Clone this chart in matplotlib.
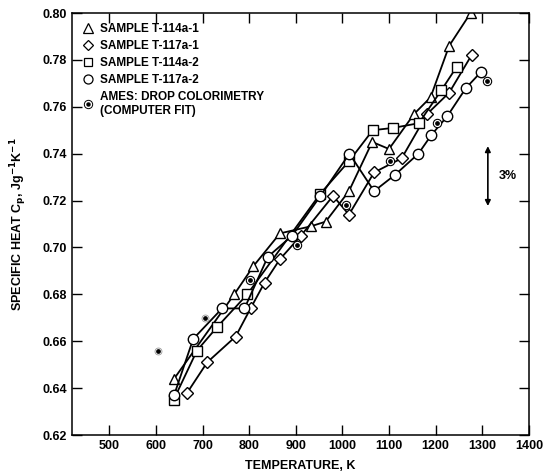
import numpy as np
import matplotlib.pyplot as plt
from matplotlib.lines import Line2D

plt.rcParams["font.family"] = ["Liberation Sans", "DejaVu Sans"]
plt.rcParams["font.weight"] = "bold"

# T-114a-1 (triangles)
t1_T = [639, 768, 809, 866, 932, 964, 1014, 1064, 1100, 1154, 1189, 1229, 1275]
t1_C = [0.644, 0.680, 0.692, 0.706, 0.709, 0.711, 0.724, 0.745, 0.742, 0.757, 0.764, 0.786, 0.800]

# T-117a-1 (diamonds)
t2_T = [667, 710, 771, 803, 833, 866, 911, 980, 1014, 1068, 1127, 1182, 1229, 1277]
t2_C = [0.638, 0.651, 0.662, 0.674, 0.685, 0.695, 0.705, 0.722, 0.714, 0.732, 0.738, 0.757, 0.766, 0.782]

# T-114a-2 (squares)
t3_T = [638, 688, 731, 796, 953, 1015, 1065, 1109, 1164, 1212, 1245]
t3_C = [0.635, 0.656, 0.666, 0.680, 0.723, 0.737, 0.750, 0.751, 0.753, 0.767, 0.777]

# T-117a-2 (circles)
t4_T = [639, 680, 742, 790, 840, 892, 953, 1015, 1068, 1113, 1163, 1191, 1225, 1265, 1298]
t4_C = [0.637, 0.661, 0.674, 0.674, 0.696, 0.705, 0.722, 0.740, 0.724, 0.731, 0.740, 0.748, 0.756, 0.768, 0.775]

# Ames drop colorimetry (computer fit)
ames_T = [604, 705, 801, 903, 1007, 1102, 1202, 1311]
ames_C = [0.656, 0.670, 0.686, 0.701, 0.718, 0.737, 0.753, 0.771]

labels = ["SAMPLE T-114a-1", "SAMPLE T-117a-1", "SAMPLE T-114a-2", "SAMPLE T-117a-2",
          "AMES: DROP COLORIMETRY\n(COMPUTER FIT)"]

fig = plt.figure(figsize=(5.43, 4.75), dpi=100)
ax = fig.add_axes([0.1326, 0.0842, 0.8414, 0.8884])

style = dict(color="black", lw=1.3, mfc="white", mec="black", mew=1.0, ms=7)
ax.plot(t1_T, t1_C, marker="^", **dict(style, ms=7.5))
ax.plot(t2_T, t2_C, marker="D", **dict(style, ms=6))
ax.plot(t3_T, t3_C, marker="s", **style)
ax.plot(t4_T, t4_C, marker="o", **dict(style, ms=7.5))
ax.plot(ames_T[2:], ames_C[2:], ls="none", marker="o", mfc="white", mec="black", mew=0.8, ms=6)
ax.plot(ames_T[:2], ames_C[:2], ls="none", marker="o", mfc="none", mec="0.6", mew=0.6, ms=5)
ax.plot(ames_T, ames_C, ls="none", marker="o", color="black", ms=2.4)

# 3% scale arrow
ax.annotate("", xy=(1312, 0.7165), xytext=(1312, 0.7444),
            arrowprops=dict(arrowstyle="<|-|>", color="black", lw=1.2, mutation_scale=8))
ax.text(1335, 0.7305, "3%", fontsize=9, fontweight="bold", va="center", ha="left")

ax.set_xlim(420, 1400)
ax.set_ylim(0.62, 0.80)
ax.set_xticks(np.arange(500, 1401, 100))
ax.set_yticks(np.arange(0.62, 0.801, 0.02))
ax.set_yticklabels([f"{v:.2f}" for v in np.arange(0.62, 0.801, 0.02)])
ax.tick_params(direction="in", length=7, width=1, top=True, right=True, labelsize=9)
for s in ax.spines.values():
    s.set_linewidth(1.1)

ax.set_xlabel("TEMPERATURE, K", fontsize=9, fontweight="bold", labelpad=6)
ax.set_ylabel(r"SPECIFIC HEAT C$_\mathbf{p}$, Jg$^\mathbf{-1}$K$^\mathbf{-1}$",
              fontsize=9, fontweight="bold", labelpad=10)

mk = dict(ls="none", mfc="white", mec="black", mew=0.9)
handles = [
    Line2D([], [], marker="^", ms=6.5, **mk),
    Line2D([], [], marker="D", ms=5.5, **mk),
    Line2D([], [], marker="s", ms=6, **mk),
    Line2D([], [], marker="o", ms=6.5, **mk),
    (Line2D([], [], marker="o", ms=6, **dict(mk, mew=0.7)),
     Line2D([], [], marker="o", ms=2.2, ls="none", color="black")),
]
ax.legend(handles, labels, loc="upper left", frameon=False, fontsize=8.5, handlelength=1.0,
          handletextpad=0.5, labelspacing=0.42, borderaxespad=0.45)

fig.savefig("out.png", dpi=100)
